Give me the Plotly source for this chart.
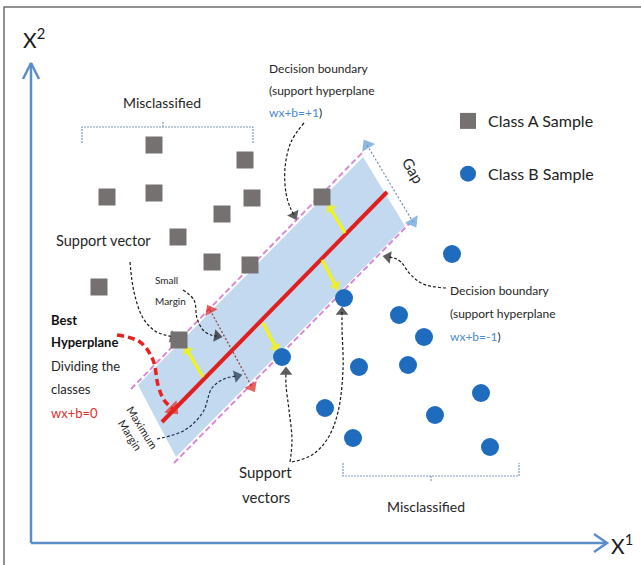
import math
import plotly.graph_objects as go

W, H = 641, 565

# ---------------- data (diagram coordinates, pixel-like units) ----------------
class_a_x = [154, 245, 107, 154, 252, 222, 178, 212, 250, 99, 179, 322]
class_a_y = [145, 160, 197, 193, 198, 214, 237, 262, 265, 287, 340, 197]
class_b_x = [452, 344, 399, 424, 359, 408, 481, 325, 435, 353, 490, 282]
class_b_y = [254, 298, 315, 337, 367, 365, 393, 408, 415, 438, 447, 357]

series_names = ["Class A Sample", "Class B Sample"]

band_x = [138, 363, 405, 176]
band_y = [385, 157, 226, 457]
hyper_x = [162, 387]
hyper_y = [422, 192]
upper_margin_x = [131, 362]
upper_margin_y = [389, 153]
lower_margin_x = [174, 409]
lower_margin_y = [463, 224]

gap_x = [367, 413]
gap_y = [145, 222]
small_margin_x = [210, 252]
small_margin_y = [310, 387]

yellow_x = [[203, 187], [263, 276], [345, 330], [322, 336]]
yellow_y = [[377, 350], [323, 348], [233, 208], [260, 286]]

curve_top_db_x = [304, 291, 285, 286, 290, 294]
curve_top_db_y = [123, 142, 168, 193, 207, 215]
curve_sv_x = [130, 134, 143, 155, 165, 173]
curve_sv_y = [262, 292, 318, 331, 335, 337]
curve_small_x = [183, 194, 197, 203, 211, 217]
curve_small_y = [290, 300, 318, 330, 335, 336]
curve_best_x = [117, 140, 153, 158, 164, 173]
curve_best_y = [335, 342, 360, 385, 400, 409]
curve_max_x = [157, 185, 203, 212, 224, 237]
curve_max_y = [439, 430, 412, 388, 379, 376]
curve_svs1_x = [290, 292, 289, 286, 286]
curve_svs1_y = [462, 440, 410, 385, 372]
curve_svs2_x = [292, 312, 328, 338, 343, 342, 342]
curve_svs2_y = [462, 455, 438, 412, 370, 328, 312]
curve_right_db_x = [446, 423, 410, 401, 394, 388]
curve_right_db_y = [288, 284, 274, 262, 258, 257]

border_x = [4, 4, 641]
border_y = [565, 7, 7]
yaxis_x = [31, 31]
yaxis_y = [543, 63]
xaxis_x = [31, 607]
xaxis_y = [543, 543]
ychev_x = [23, 31, 39]
ychev_y = [79, 63, 79]
xchev_x = [594, 607, 594]
xchev_y = [534, 543, 552]

bracket_top_x = [82, 82, 253, 253]
bracket_top_y = [143, 127, 127, 143]
bracket_top_tick_x = [163, 163]
bracket_top_tick_y = [127, 122]
bracket_bot_x = [343, 343, 519, 519]
bracket_bot_y = [463, 476, 476, 463]
bracket_bot_tick_x = [431, 431]
bracket_bot_tick_y = [476, 481]

# text labels: (text, x, y, size, color, anchor)
FONT = "Lato"
DARK = "#262626"
BLUE_T = "#4a8ac6"
RED_T = "#e0302a"
labels = [
    ("Misclassified", 162, 102, 14, DARK, "center"),
    ("Misclassified", 426, 506, 14, DARK, "center"),
    ("Decision boundary", 267, 68, 12, DARK, "left"),
    ("(support hyperplane", 267, 90, 12, DARK, "left"),
    ("<span style='color:%s'>wx+b=+1</span>)" % BLUE_T, 267, 112, 12, DARK, "left"),
    ("Decision boundary", 448, 290, 12, DARK, "left"),
    ("(support hyperplane", 448, 313, 12, DARK, "left"),
    ("<span style='color:%s'>wx+b=-1</span>)" % BLUE_T, 448, 336, 12, DARK, "left"),
    ("Support vector", 54, 240, 14.5, DARK, "left"),
    ("Small", 153, 280, 10, DARK, "left"),
    ("Margin", 153, 301, 10, DARK, "left"),
    ("<b>Best</b>", 49, 320, 13, "#111111", "left"),
    ("<b>Hyperplane</b>", 49, 342, 13, "#111111", "left"),
    ("Dividing the", 49, 366, 13, DARK, "left"),
    ("classes", 49, 389, 13, DARK, "left"),
    ("wx+b=0", 49, 413, 13, RED_T, "left"),
    ("Support", 265, 472, 15, DARK, "center"),
    ("vectors", 266, 497, 15, DARK, "center"),
]
axis_labels = [("X<sup>2</sup>", 34, 38), ("X<sup>1</sup>", 622, 544)]

fig = go.Figure()


def line(xs, ys, color, width, dash=None, shape="linear", fill=None, fillcolor=None):
    fig.add_trace(go.Scatter(
        x=xs, y=ys, mode="lines",
        line=dict(color=color, width=width, dash=dash, shape=shape, smoothing=1.0),
        fill=fill, fillcolor=fillcolor,
        hoverinfo="skip", showlegend=False))


def head(xs, ys, color, size):
    fig.add_trace(go.Scatter(
        x=xs[-2:], y=ys[-2:], mode="markers",
        marker=dict(symbol="triangle-up", size=[0, size], color=color,
                    angleref="previous", line=dict(width=0)),
        hoverinfo="skip", showlegend=False))


def arrow(xs, ys, color, width, dash=None, size=10, shape="spline", head_color=None):
    line(xs, ys, color, width, dash, shape)
    head(xs, ys, head_color or color, size)


# frame
line(border_x, border_y, "#6e6e6e", 1.5)

# band
line(band_x + band_x[:1], band_y + band_y[:1], "rgba(0,0,0,0)", 0,
     fill="toself", fillcolor="#c3d9ef")

# margin lines
line(upper_margin_x, upper_margin_y, "#d98ad6", 2, "6px,3px")
line(lower_margin_x, lower_margin_y, "#d98ad6", 2, "6px,3px")

# hyperplane
line(hyper_x, hyper_y, "#e01f1f", 4)

# yellow arrows
for xs, ys in zip(yellow_x, yellow_y):
    arrow(xs, ys, "#f4f40c", 3, size=11, shape="linear")

# gap arrow (double headed)
line(gap_x, gap_y, "#6d8fb5", 1.2, "2px,2px")
head(gap_x, gap_y, "#5b9bd5", 13)
head(gap_x[::-1], gap_y[::-1], "#5b9bd5", 13)

# small margin double arrow
line(small_margin_x, small_margin_y, "#9a4848", 1.3, "2px,2px")
head(small_margin_x, small_margin_y, "#e01f1f", 12)
head(small_margin_x[::-1], small_margin_y[::-1], "#e01f1f", 12)

# callout curves
DASH = "3px,2px"
arrow(curve_top_db_x, curve_top_db_y, "#1a1a1a", 1.2, DASH, 11)
arrow(curve_sv_x, curve_sv_y, "#1a1a1a", 1.2, DASH, 11)
arrow(curve_small_x, curve_small_y, "#1a1a1a", 1.2, DASH, 11)
arrow(curve_max_x, curve_max_y, "#1f2d4a", 1.2, DASH, 11)
arrow(curve_svs1_x, curve_svs1_y, "#1a1a1a", 1.2, DASH, 11)
arrow(curve_svs2_x, curve_svs2_y, "#1a1a1a", 1.2, DASH, 11)
arrow(curve_right_db_x, curve_right_db_y, "#1a1a1a", 1.2, DASH, 11)
arrow(curve_best_x, curve_best_y, "#e8231f", 3.5, "7px,4px", 15)

# brackets
for bx, by in [(bracket_top_x, bracket_top_y), (bracket_top_tick_x, bracket_top_tick_y),
               (bracket_bot_x, bracket_bot_y), (bracket_bot_tick_x, bracket_bot_tick_y)]:
    line(bx, by, "#7f9ab8", 1.2, "2px,1px")

# axes
line(yaxis_x, yaxis_y, "#5b8ec8", 2.5)
line(xaxis_x, xaxis_y, "#5b8ec8", 2.5)
line(ychev_x, ychev_y, "#5b8ec8", 2.5)
line(xchev_x, xchev_y, "#5b8ec8", 2.5)

# samples
fig.add_trace(go.Scatter(
    x=class_a_x, y=class_a_y, mode="markers", name=series_names[0],
    marker=dict(symbol="square", size=17, color="#767171"),
    legendgroup="a", showlegend=True))
fig.add_trace(go.Scatter(
    x=class_b_x, y=class_b_y, mode="markers", name=series_names[1],
    marker=dict(symbol="circle", size=18, color="#1f6cbf"),
    legendgroup="b", showlegend=True))

# texts
for text, x, y, size, color, anchor in labels:
    fig.add_annotation(x=x, y=y, text=text, showarrow=False, xanchor=anchor, yanchor="middle",
                       font=dict(family=FONT, size=size, color=color))
for text, x, y in axis_labels:
    fig.add_annotation(x=x, y=y, text=text, showarrow=False, xanchor="center", yanchor="middle",
                       font=dict(family=FONT, size=21, color="#1a1a1a"))
fig.add_annotation(x=413, y=170, text="Gap", showarrow=False, textangle=59,
                   font=dict(family=FONT, size=15, color=DARK))
fig.add_annotation(x=137, y=431, text="Maximum<br>Margin", showarrow=False, textangle=58,
                   font=dict(family=FONT, size=11, color=DARK))

fig.update_layout(
    width=W, height=H,
    margin=dict(l=0, r=0, t=0, b=0),
    paper_bgcolor="white", plot_bgcolor="white",
    xaxis=dict(range=[0, W], visible=False, fixedrange=True),
    yaxis=dict(range=[H, 0], visible=False, fixedrange=True),
    legend=dict(x=448 / W, y=1 - 104 / H, xanchor="left", yanchor="top",
                font=dict(family=FONT, size=16, color="#222222"),
                tracegroupgap=29, bgcolor="rgba(0,0,0,0)"),
    font=dict(family=FONT),
)

fig.write_html("out.html", config=dict(displayModeBar=False),
               post_script="document.body.style.margin='0';")
